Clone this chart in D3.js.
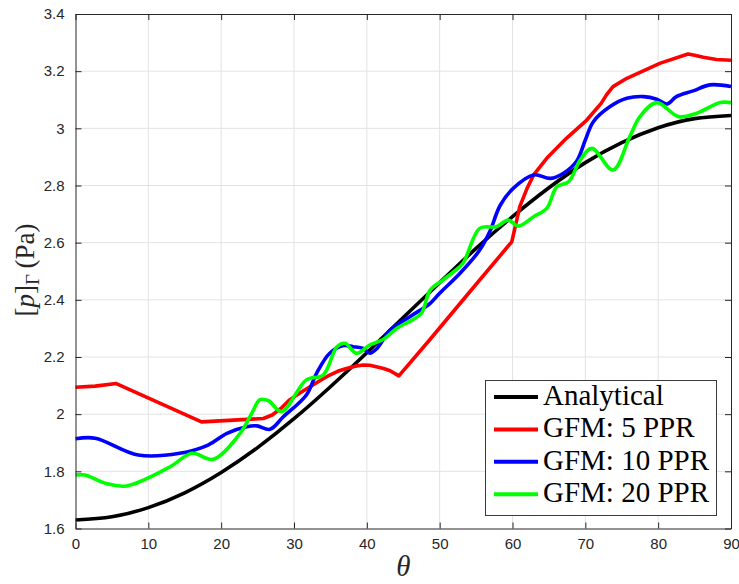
<!DOCTYPE html>
<html>
<head>
<meta charset="utf-8">
<script src="https://cdn.jsdelivr.net/npm/d3@7"></script>
<style>
  html, body { margin: 0; padding: 0; background: #fff; }
  svg { display: block; }
</style>
</head>
<body>
<svg id="chart" width="739" height="584"></svg>
<script>
// Interface pressure along the boundary, analytical vs. ghost-fluid results
const xTicks = [0, 10, 20, 30, 40, 50, 60, 70, 80, 90];
const yTicks = [1.6, 1.8, 2.0, 2.2, 2.4, 2.6, 2.8, 3.0, 3.2, 3.4];
const yTickLabels = ["1.6", "1.8", "2", "2.2", "2.4", "2.6", "2.8", "3", "3.2", "3.4"];

const analyticalTheta = [0, 5, 10, 15, 20, 25, 30, 35, 40, 45, 50, 55, 60, 65, 70, 75, 80, 85, 90];
const analyticalP = [1.630, 1.641, 1.673, 1.725, 1.796, 1.883, 1.984, 2.096, 2.215, 2.338, 2.460, 2.580, 2.691, 2.792, 2.880, 2.950, 3.002, 3.034, 3.045];

const ppr5Theta = [0, 2.7, 5.6, 17.3, 25.8, 27.0, 28.2, 29.4, 30.8, 32.2, 33.6, 34.9, 36.0, 37.2, 38.4, 39.5, 40.4, 41.3, 42.3, 43.2, 44.4, 48.7, 54.0, 59.9, 61.0, 62.0, 62.9, 64.7, 67.4, 70.2, 72.2, 72.9, 73.8, 75.7, 80.3, 84.1, 85.0, 86.2, 88.0, 90];
const ppr5P = [2.094, 2.098, 2.107, 1.973, 1.985, 1.997, 2.020, 2.050, 2.074, 2.096, 2.118, 2.137, 2.150, 2.160, 2.168, 2.172, 2.171, 2.166, 2.160, 2.152, 2.134, 2.262, 2.424, 2.603, 2.726, 2.790, 2.837, 2.895, 2.965, 3.029, 3.088, 3.117, 3.146, 3.175, 3.228, 3.260, 3.256, 3.249, 3.241, 3.238];

const ppr10Theta = [0, 2.7, 8.6, 14.3, 18.2, 20.8, 23.5, 24.9, 26.7, 28.5, 31.7, 33.1, 34.9, 36.8, 38.1, 39.5, 40.4, 41.4, 43.2, 45.9, 48.7, 50.0, 52.8, 55.5, 56.9, 58.3, 60.1, 62.9, 65.2, 67.0, 68.8, 70.0, 71.1, 73.4, 75.7, 78.0, 79.8, 81.2, 82.5, 84.8, 87.1, 90];
const ppr10P = [1.914, 1.916, 1.857, 1.863, 1.892, 1.933, 1.956, 1.959, 1.947, 1.990, 2.067, 2.143, 2.213, 2.240, 2.236, 2.230, 2.213, 2.230, 2.294, 2.341, 2.388, 2.423, 2.493, 2.574, 2.640, 2.730, 2.790, 2.837, 2.825, 2.843, 2.885, 2.959, 3.023, 3.076, 3.105, 3.111, 3.102, 3.085, 3.111, 3.131, 3.152, 3.146];

const ppr20Theta = [0, 1.3, 4.1, 7.0, 13.0, 16.0, 18.9, 22.6, 24.2, 25.3, 26.5, 28.3, 31.7, 34.0, 35.9, 37.0, 38.6, 40.4, 42.3, 44.1, 46.2, 47.5, 48.7, 50.5, 51.9, 53.2, 55.5, 57.8, 59.4, 60.8, 62.9, 64.7, 66.1, 67.7, 69.3, 70.9, 73.8, 76.1, 77.5, 79.8, 82.8, 85.3, 88.5, 90];
const ppr20P = [1.787, 1.787, 1.758, 1.749, 1.816, 1.863, 1.842, 1.933, 2.003, 2.050, 2.047, 2.009, 2.120, 2.137, 2.236, 2.248, 2.213, 2.242, 2.262, 2.300, 2.329, 2.353, 2.434, 2.470, 2.498, 2.528, 2.650, 2.656, 2.679, 2.658, 2.691, 2.720, 2.796, 2.813, 2.889, 2.930, 2.854, 2.971, 3.041, 3.090, 3.041, 3.053, 3.090, 3.090];

const seriesNames = ["Analytical", "GFM: 5 PPR", "GFM: 10 PPR", "GFM: 20 PPR"];
const seriesColors = ["#000000", "#ff0000", "#0000ff", "#00ff00"];

const series = [
  { name: seriesNames[0], color: seriesColors[0], x: analyticalTheta, y: analyticalP, curve: d3.curveNatural },
  { name: seriesNames[1], color: seriesColors[1], x: ppr5Theta, y: ppr5P, curve: d3.curveLinear },
  { name: seriesNames[2], color: seriesColors[2], x: ppr10Theta, y: ppr10P, curve: d3.curveCatmullRom.alpha(0.5) },
  { name: seriesNames[3], color: seriesColors[3], x: ppr20Theta, y: ppr20P, curve: d3.curveCatmullRom.alpha(0.5) }
];

const svg = d3.select("#chart");
const m = { left: 75.5, right: 731, top: 14, bottom: 528.5 };

const x = d3.scaleLinear().domain([0, 90]).range([m.left, m.right]);
const y = d3.scaleLinear().domain([1.6, 3.4]).range([m.bottom, m.top]);

const axisColor = "#262626";
const gridColor = "#e3e3e3";
const tickFont = "'Liberation Sans', Arial, Helvetica, sans-serif";

// grid
const grid = svg.append("g");
grid.selectAll("line.gx").data(xTicks.slice(1, -1)).join("line")
  .attr("x1", d => x(d)).attr("x2", d => x(d))
  .attr("y1", m.top).attr("y2", m.bottom)
  .attr("stroke", gridColor).attr("stroke-width", 1);
grid.selectAll("line.gy").data(yTicks.slice(1, -1)).join("line")
  .attr("x1", m.left).attr("x2", m.right)
  .attr("y1", d => y(d)).attr("y2", d => y(d))
  .attr("stroke", gridColor).attr("stroke-width", 1);

// data lines
const plot = svg.append("g");
series.forEach(s => {
  const pts = s.x.map((t, i) => [t, s.y[i]]);
  const line = d3.line().x(d => x(d[0])).y(d => y(d[1])).curve(s.curve);
  plot.append("path")
    .attr("d", line(pts))
    .attr("fill", "none")
    .attr("stroke", s.color)
    .attr("stroke-width", 3.6)
    .attr("stroke-linejoin", "round")
    .attr("stroke-linecap", "butt");
});

// axes (ticks pointing inward on all four sides)
const tick = 6;
const bottomAxis = d3.axisBottom(x).tickValues(xTicks).tickSizeInner(-tick).tickSizeOuter(0).tickPadding(10);
const topAxis = d3.axisTop(x).tickValues(xTicks).tickSizeInner(-tick).tickSizeOuter(0).tickFormat("");
const leftAxis = d3.axisLeft(y).tickValues(yTicks).tickSizeInner(-tick).tickSizeOuter(0).tickPadding(11)
  .tickFormat((d, i) => yTickLabels[i]);
const rightAxis = d3.axisRight(y).tickValues(yTicks).tickSizeInner(-tick).tickSizeOuter(0).tickFormat("");

function styleAxis(g) {
  g.select(".domain").attr("stroke", axisColor).attr("stroke-width", 1);
  g.selectAll(".tick line").attr("stroke", axisColor).attr("stroke-width", 1);
  g.selectAll(".tick text").attr("fill", axisColor).style("font-family", tickFont).style("font-size", "15px");
}

svg.append("g").attr("transform", `translate(0,${m.bottom})`).call(bottomAxis).call(styleAxis);
svg.append("g").attr("transform", `translate(0,${m.top})`).call(topAxis).call(styleAxis);
svg.append("g").attr("transform", `translate(${m.left},0)`).call(leftAxis).call(styleAxis);
svg.append("g").attr("transform", `translate(${m.right},0)`).call(rightAxis).call(styleAxis);

const serif = "'Liberation Serif', 'Times New Roman', serif";

// x label
svg.append("text")
  .attr("x", (m.left + m.right) / 2).attr("y", 576)
  .attr("text-anchor", "middle")
  .style("font-family", serif).style("font-style", "italic").style("font-size", "29px")
  .attr("fill", axisColor)
  .text("θ");

// y label
const yl = svg.append("text")
  .attr("transform", "translate(34,270) rotate(-90)")
  .attr("text-anchor", "middle")
  .style("font-family", serif).style("font-size", "27px")
  .attr("fill", axisColor);
yl.append("tspan").text("[");
yl.append("tspan").style("font-style", "italic").text("p");
yl.append("tspan").text("]");
yl.append("tspan").attr("dy", 5).style("font-size", "19px").text("Γ");
yl.append("tspan").attr("dy", -5).text("\u2009(Pa)");

// legend
const lg = svg.append("g");
lg.append("rect")
  .attr("x", 485.5).attr("y", 380.5).attr("width", 231).attr("height", 135)
  .attr("fill", "#fff").attr("stroke", "#3a3a3a").attr("stroke-width", 1);
series.forEach((s, i) => {
  const base = 405 + i * 32.4;
  lg.append("line")
    .attr("x1", 494).attr("x2", 538)
    .attr("y1", base - 8).attr("y2", base - 8)
    .attr("stroke", s.color).attr("stroke-width", 4);
  lg.append("text")
    .attr("x", 543).attr("y", base)
    .style("font-family", serif).style("font-size", "29px")
    .attr("fill", "#000")
    .text(s.name);
});
</script>
</body>
</html>
